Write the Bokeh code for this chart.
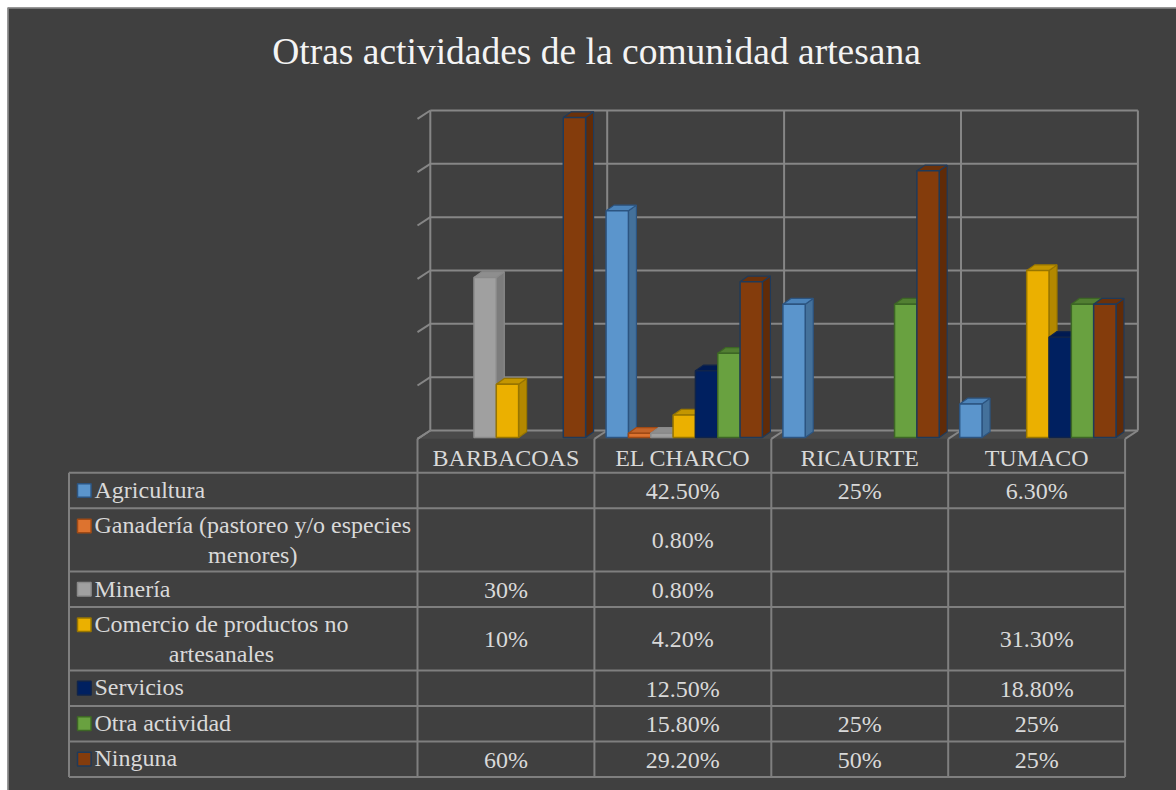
import textwrap
from bokeh.plotting import figure
from bokeh.models import Range1d
from bokeh.core.properties import value
from bokeh.embed import file_html
from bokeh.resources import INLINE

# ---------------- data ----------------
title = "Otras actividades de la comunidad artesana"
categories = ["BARBACOAS", "EL CHARCO", "RICAURTE", "TUMACO"]
series = ["Agricultura", "Ganadería (pastoreo y/o especies menores)", "Minería",
          "Comercio de productos no artesanales", "Servicios", "Otra actividad", "Ninguna"]
agricultura = [None, 42.5, 25, 6.3]
ganaderia = [None, 0.8, None, None]
mineria = [30, 0.8, None, None]
comercio = [10, 4.2, None, 31.3]
servicios = [None, 12.5, None, 18.8]
otra = [None, 15.8, 25, 25]
ninguna = [60, 29.2, 50, 25]
values = [agricultura, ganaderia, mineria, comercio, servicios, otra, ninguna]
ticks = [0, 10, 20, 30, 40, 50, 60]

# ---------------- styles ----------------
front_colors = ["#5b95cc", "#dd732f", "#a0a0a0", "#ebb000", "#002060", "#69a140", "#843c0c"]
side_colors = ["#44719b", "#a8561f", "#7c7c7c", "#b38800", "#00184c", "#4c7a2e", "#602b08"]
top_colors = ["#4c84ba", "#c4652a", "#8e8e8e", "#c49600", "#001a52", "#527f32", "#6b310a"]
edge_colors = ["#2c5480", "#a04a15", "#8a8a8a", "#977500", "#10244a", "#3d6625", "#1f3a5a"]
BG = "#404040"
GRID = "#868686"
TXT = "#d9d9d9"
FONT = value("Liberation Serif")

W, H = 1176, 790
O = 0.0             # where the canvas lands in the picture
MB = 7              # white margin before the chart frame
K = 5.3333          # px per percentage point
ZERO = 437.0        # picture pixel of value 0 (bar fronts)


def Y(pix):
    return (ZERO - pix) / K


X0, X1 = O + MB, O + W
YT, YB = Y(O + MB), Y(O + H)
p = figure(width=W, height=H, x_range=Range1d(X0, X1), y_range=Range1d(YB, YT),
           output_backend="svg", toolbar_location=None,
           min_border_left=MB, min_border_top=MB, min_border_right=0, min_border_bottom=0,
           x_axis_location=None, y_axis_location=None,
           background_fill_color=BG, border_fill_color="white", outline_line_color=None)
p.grid.visible = False

# chart border (top and left edges visible)
p.segment(x0=[X0, X0 + 0.6], x1=[X1, X0 + 0.6], y0=[YT - 0.6 / K, YT], y1=[YT - 0.6 / K, YB],
          line_color="#8a8a8a", line_width=1.5)

# ---------------- 3D walls ----------------
CW = 176.9
FX0, BX0 = 417.0, 429.8          # front / back x of first category
FRONT_Y, BACK_Y = Y(438.3), Y(430.0)
n = len(categories)

p.patch([FX0, FX0 + n * CW, BX0 + n * CW, BX0], [FRONT_Y, FRONT_Y, BACK_Y, BACK_Y],
        fill_color="#4a4a4a", line_color=None)
p.segment(x0=[BX0] * len(ticks), x1=[BX0 + n * CW] * len(ticks),
          y0=[t + BACK_Y for t in ticks], y1=[t + BACK_Y for t in ticks],
          line_color=GRID, line_width=2)
p.segment(x0=[FX0] * len(ticks), x1=[BX0] * len(ticks),
          y0=[t + FRONT_Y for t in ticks], y1=[t + BACK_Y for t in ticks],
          line_color=GRID, line_width=2)
p.segment(x0=[BX0 + CW * i for i in range(n + 1)], x1=[BX0 + CW * i for i in range(n + 1)],
          y0=[BACK_Y] * (n + 1), y1=[ticks[-1] + BACK_Y] * (n + 1),
          line_color=GRID, line_width=2)
p.segment(x0=[FX0 + CW * i for i in range(n + 1)], x1=[BX0 + CW * i for i in range(n + 1)],
          y0=[FRONT_Y] * (n + 1), y1=[BACK_Y] * (n + 1), line_color=GRID, line_width=2)

# ---------------- bars ----------------
SLOT = 22.33
BAR_X0 = 428.8
BAR_CW = 176.8
DX = 8.0
DY = 5.7 / K
for s, vals in enumerate(values):
    lefts, rights, tops = [], [], []
    sxs, sys_, txs, tys = [], [], [], []
    for c, v in enumerate(vals):
        if v is None:
            continue
        l = BAR_X0 + BAR_CW * c + SLOT * s
        r = l + SLOT
        lefts.append(l); rights.append(r); tops.append(v)
        sxs.append([r, r + DX, r + DX, r]); sys_.append([0, DY, v + DY, v])
        txs.append([l, r, r + DX, l + DX]); tys.append([v, v, v + DY, v + DY])
    p.patches(sxs, sys_, fill_color=side_colors[s], line_color=edge_colors[s], line_width=1.2)
    p.patches(txs, tys, fill_color=top_colors[s], line_color=edge_colors[s], line_width=1.2)
    p.quad(left=lefts, right=rights, bottom=0, top=tops, fill_color=front_colors[s],
           line_color=edge_colors[s], line_width=1.5)

# ---------------- title ----------------
p.text(x=[596], y=[Y(51)], text=[title], text_font=FONT, text_font_size="37.5px",
       text_color="#f4f4f4", text_align="center", text_baseline="middle")

# ---------------- data table ----------------
TL, TR = 68.5, FX0 + n * CW
HEADER_TOP = 438.3
row_top = [472.3]
wrapped = [textwrap.wrap(name, 32) for name in series]
for lines in wrapped:
    row_top.append(row_top[-1] + (35.5 if len(lines) == 1 else 63.3))

p.segment(x0=[TL] * len(row_top), x1=[TR] * len(row_top), y0=[Y(v) for v in row_top],
          y1=[Y(v) for v in row_top], line_color="#7f7f7f", line_width=2)
p.segment(x0=[TL], x1=[TL], y0=[Y(row_top[0])], y1=[Y(row_top[-1])], line_color="#7f7f7f", line_width=2)
p.segment(x0=[FX0 + CW * i for i in range(n + 1)], x1=[FX0 + CW * i for i in range(n + 1)],
          y0=[Y(HEADER_TOP)] * (n + 1), y1=[Y(row_top[-1])] * (n + 1),
          line_color="#7f7f7f", line_width=2)

# header labels
p.text(x=[FX0 + CW * (c + 0.5) for c in range(n)], y=[Y(457.5)] * n, text=categories,
       text_font=FONT, text_font_size="24px", text_color=TXT, text_align="center",
       text_baseline="middle")

# legend keys + row labels
key_l, key_r, key_b, key_t = [], [], [], []
lab_x, lab_y, lab_t = [], [], []
for r, lines in enumerate(wrapped):
    top = row_top[r]
    cy = top + 17.7
    key_l.append(77.0); key_r.append(90.6); key_b.append(Y(cy + 6.8)); key_t.append(Y(cy - 6.8))
    lab_x.append(94.0); lab_y.append(Y(top + 4.0)); lab_t.append("\n".join(lines))
p.quad(left=key_l, right=key_r, bottom=key_b, top=key_t, fill_color=front_colors,
       line_color=edge_colors, line_width=1.5)
p.text(x=lab_x, y=lab_y, text=lab_t, text_font=FONT, text_font_size="24px", text_color=TXT,
       text_align="center", anchor="top_left", text_line_height=1.14)

# cell values
vx, vy, vt = [], [], []
for r, vals in enumerate(values):
    cy = (row_top[r] + row_top[r + 1]) / 2
    for c, v in enumerate(vals):
        if v is None:
            continue
        vx.append(FX0 + CW * (c + 0.5)); vy.append(Y(cy + 0.5))
        vt.append(f"{int(v)}%" if float(v).is_integer() else f"{v:.2f}%")
p.text(x=vx, y=vy, text=vt, text_font=FONT, text_font_size="24px", text_color=TXT,
       text_align="center", text_baseline="middle")

open("out.html", "w").write(file_html(p, INLINE))
